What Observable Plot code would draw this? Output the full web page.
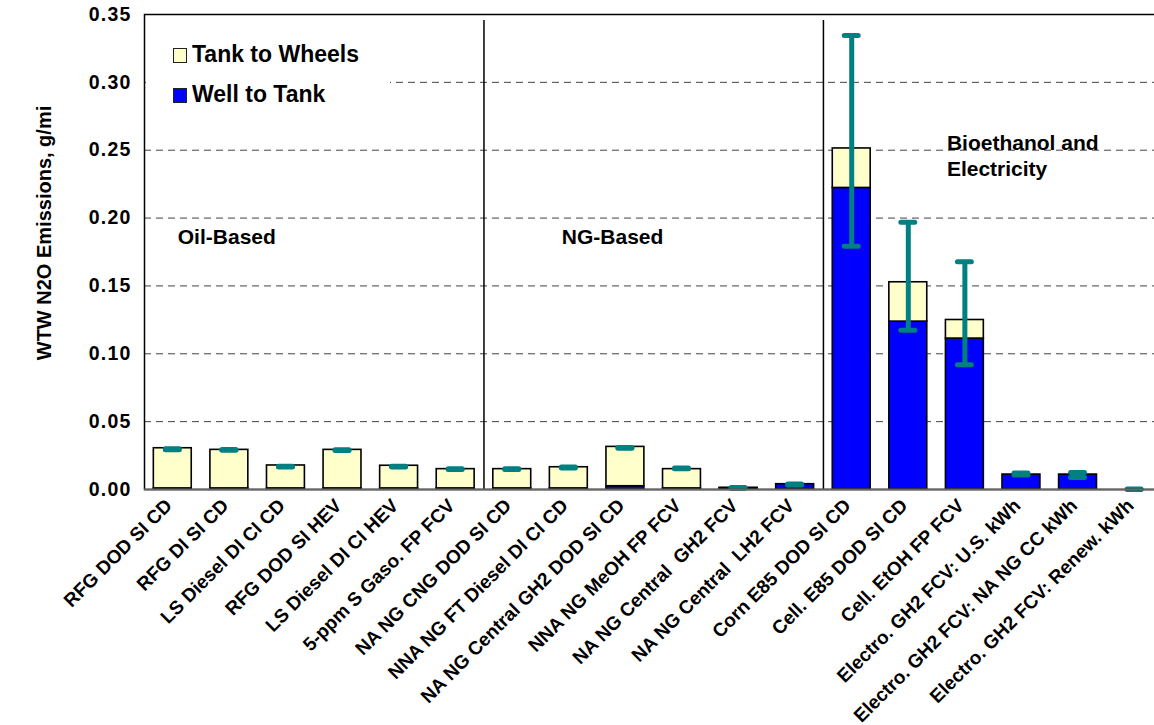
<!DOCTYPE html>
<html>
<head>
<meta charset="utf-8">
<script src="https://cdn.jsdelivr.net/npm/d3@7"></script>
<script src="https://cdn.jsdelivr.net/npm/@observablehq/plot@0.6"></script>
<style>
  html, body { margin: 0; padding: 0; background: white; overflow: hidden; }
  #wrap { position: relative; width: 1154px; height: 725px; font-family: "Liberation Sans", Arial, sans-serif; font-weight: bold; }
  #legend { position: absolute; left: 146px; top: 30px; width: 244px; height: 92px; background: white; }
  .item { position: absolute; left: 27px; font-size: 23px; line-height: 23px; white-space: nowrap; }
  .sw { display: inline-block; width: 12px; height: 13px; border: 1.5px solid #222; margin-right: 5px; vertical-align: -1px; }
  #ylabel { position: absolute; left: 44px; top: 233px; transform: translate(-50%, -50%) rotate(-90deg); font-size: 20px; white-space: nowrap; }
  g[aria-label="y-axis tick label"] text { font-size: 19.5px; letter-spacing: 1.2px; }
  g[aria-label="x-axis tick label"] text { font-size: 19px; }
</style>
</head>
<body>
<div id="wrap"></div>
<script>
const categories = [
  "RFG DOD SI CD", "RFG DI SI CD", "LS Diesel DI CI CD", "RFG DOD SI HEV",
  "LS Diesel DI CI HEV", "5-ppm S Gaso. FP FCV", "NA NG CNG DOD SI CD",
  "NNA NG FT Diesel DI CI CD", "NA NG Central GH2 DOD SI CD", "NNA NG MeOH FP FCV",
  "NA NG Central  GH2 FCV", "NA NG Central  LH2 FCV", "Corn E85 DOD SI CD",
  "Cell. E85 DOD SI CD", "Cell. EtOH FP FCV", "Electro. GH2 FCV: U.S. kWh",
  "Electro. GH2 FCV: NA NG CC kWh", "Electro. GH2 FCV: Renew. kWh"
];
const wellToTank   = [0.0008, 0.0008, 0.0008, 0.0008, 0.0008, 0.0008, 0.0008, 0.0008, 0.0024, 0.0008, 0.0010, 0.0039, 0.2222, 0.1237, 0.1112, 0.0110, 0.0110, 0];
const tankToWheels = [0.0296, 0.0284, 0.0169, 0.0284, 0.0167, 0.0142, 0.0142, 0.0156, 0.0290, 0.0142, 0.0002, 0, 0.0291, 0.0290, 0.0137, 0, 0, 0];
const errLow  = [0.0293, 0.0289, 0.0166, 0.0287, 0.0166, 0.0147, 0.0147, 0.0159, 0.0304, 0.0152, 0.0010, 0.0034, 0.1792, 0.1173, 0.0920, 0.0107, 0.0088, 0.0000];
const errHigh = [0.0300, 0.0295, 0.0172, 0.0293, 0.0172, 0.0152, 0.0152, 0.0165, 0.0310, 0.0158, 0.0014, 0.0040, 0.3345, 0.1969, 0.1679, 0.0121, 0.0125, 0.0003];
const seriesNames = ["Well to Tank", "Tank to Wheels"];
const seriesColors = ["#0000FF", "#FFFFCC"];
const yTicks = [0, 0.05, 0.10, 0.15, 0.20, 0.25, 0.30, 0.35];
const gridValues = [0.05, 0.10, 0.15, 0.20, 0.25, 0.30];
const separatorsAfter = ["5-ppm S Gaso. FP FCV", "NA NG Central  LH2 FCV"];
const groupLabels = [
  {anchor: "RFG DOD SI CD", level: 0.1874, label: "Oil-Based", shift: 5},
  {anchor: "NNA NG FT Diesel DI CI CD", level: 0.1874, label: "NG-Based", shift: -7},
  {anchor: "Cell. EtOH FP FCV", level: 0.247, label: "Bioethanol and\nElectricity", shift: -18}
];

const W = 1154, H = 725, mL = 144, mR = -8.4, mT = 14, mB = 236;
const step = (W - mL - mR) / categories.length;
const teal = "#008080";

const rows = [];
categories.forEach((c, i) => {
  if (wellToTank[i] > 0) rows.push({cat: c, series: seriesNames[0], value: wellToTank[i]});
  if (tankToWheels[i] > 0) rows.push({cat: c, series: seriesNames[1], value: tankToWheels[i]});
});
const errs = categories.map((c, i) => ({cat: c, lo: errLow[i], hi: errHigh[i]}));

const hasAxisMarks = typeof Plot.axisX === "function";
const xAxisMarks = hasAxisMarks
  ? [Plot.axisX({tickSize: 0, tickRotate: -45, tickPadding: 10, dx: -4, dy: 3, fontSize: 19, label: null})]
  : [];

const chart = Plot.plot({
  width: W, height: H,
  marginLeft: mL, marginRight: mR, marginTop: mT, marginBottom: mB,
  style: {fontFamily: "'Liberation Sans', Arial, sans-serif", fontWeight: "bold", fontSize: "18px", color: "black", background: "white", overflow: "visible"},
  x: {domain: categories, paddingInner: 0.33, paddingOuter: 0.165, round: false, label: null, tickSize: 0, tickRotate: -45, tickPadding: 10},
  y: {domain: [0, 0.35], ticks: yTicks, tickFormat: d3.format(".2f"), label: null, tickSize: 0, tickPadding: 13},
  color: {domain: seriesNames, range: seriesColors},
  marks: [
    ...xAxisMarks,
    Plot.ruleY(gridValues, {stroke: "#444", strokeDasharray: "7,5", strokeWidth: 1}),
    Plot.ruleX(separatorsAfter, {x: d => d, dx: step / 2, stroke: "black", strokeWidth: 1.5, insetTop: 6}),
    Plot.barY(rows, {x: "cat", y: "value", fill: "series", stroke: "black", strokeWidth: 1.6}),
    Plot.ruleX(errs, {x: "cat", y1: "lo", y2: "hi", stroke: teal, strokeWidth: 5}),
    Plot.tickY(errs, {x: "cat", y: "lo", stroke: teal, strokeWidth: 5, strokeLinecap: "round", inset: 12}),
    Plot.tickY(errs, {x: "cat", y: "hi", stroke: teal, strokeWidth: 5, strokeLinecap: "round", inset: 12}),
    ...groupLabels.map(g => Plot.text([g], {x: "anchor", y: "level", text: "label", dx: g.shift, textAnchor: "start", fontSize: 21, lineHeight: 1.25, fill: "black"})),
    Plot.frame({stroke: "black", strokeWidth: 1.5}),
    Plot.ruleY([0], {stroke: "#666", strokeWidth: 2})
  ]
});

const wrap = document.getElementById("wrap");
wrap.appendChild(chart);

const legend = document.createElement("div");
legend.id = "legend";
const legendItems = [
  {name: seriesNames[1], color: seriesColors[1], top: 13},
  {name: seriesNames[0], color: seriesColors[0], top: 53}
];
legendItems.forEach(it => {
  const d = document.createElement("div");
  d.className = "item";
  d.style.top = it.top + "px";
  const s = document.createElement("span");
  s.className = "sw";
  s.style.background = it.color;
  d.appendChild(s);
  d.appendChild(document.createTextNode(it.name));
  legend.appendChild(d);
});
wrap.appendChild(legend);

const yl = document.createElement("div");
yl.id = "ylabel";
yl.textContent = "WTW N2O Emissions, g/mi";
wrap.appendChild(yl);
</script>
</body>
</html>
